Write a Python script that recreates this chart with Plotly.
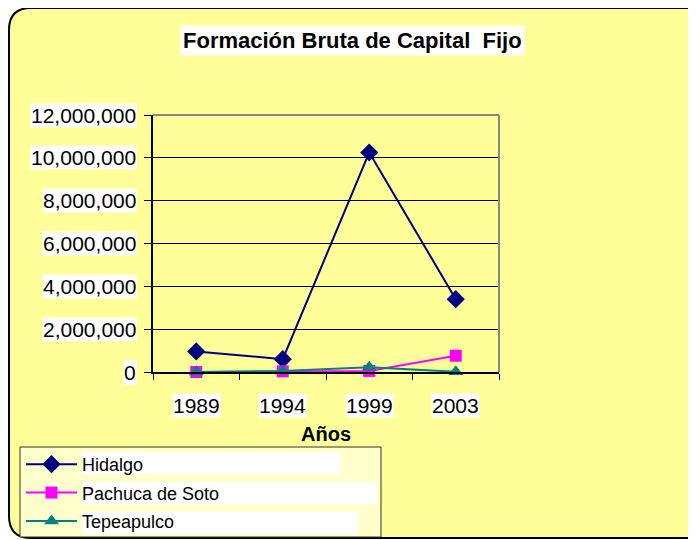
import plotly.graph_objects as go

# data
years = ['1989', '1994', '1999', '2003']
hidalgo = [960000, 600000, 10250000, 3400000]
pachuca = [0, 30000, 50000, 760000]
tepeapulco = [0, 50000, 220000, 10000]
y_ticks = [0, 2000000, 4000000, 6000000, 8000000, 10000000, 12000000]

# the page body adds an 8px offset to the figure
OFF = 8
W, H = 696 - OFF, 540 - OFF
# plot area in window pixels
L, R, T, B = 153, 499, 115, 372


def px(x):
    return (x - L) / (R - L)


def py(y):
    return (B - y) / (B - T)


fig = go.Figure()

series = [
    ('Hidalgo', hidalgo, '#000080', 'diamond', 14),
    ('Pachuca de Soto', pachuca, '#FF00FF', 'square', 12),
    ('Tepeapulco', tepeapulco, '#008080', 'triangle-up', 13),
]
for name, vals, color, symbol, size in series:
    fig.add_trace(go.Scatter(
        x=years, y=vals, name=name, mode='lines+markers',
        line=dict(color=color, width=2),
        marker=dict(symbol=symbol, size=size, color=color),
        legendgroup=name, cliponaxis=False,
    ))

shapes = []
# outer rounded frame (its right side runs off the page, as in the original)
x0, x1, y0, y1, r = 9, 720, 8, 538, 22
rx, ry = r / (R - L), r / (B - T)
path = (f"M {px(x0) + rx},{py(y0)} L {px(x1) - rx},{py(y0)} "
        f"Q {px(x1)},{py(y0)} {px(x1)},{py(y0) - ry} "
        f"L {px(x1)},{py(y1) + ry} Q {px(x1)},{py(y1)} {px(x1) - rx},{py(y1)} "
        f"L {px(x0) + rx},{py(y1)} Q {px(x0)},{py(y1)} {px(x0)},{py(y1) + ry} "
        f"L {px(x0)},{py(y0) - ry} Q {px(x0)},{py(y0)} {px(x0) + rx},{py(y0)} Z")
shapes.append(dict(type='path', path=path, xref='paper', yref='paper', layer='below',
                   fillcolor='#FFFF99', line=dict(color='black', width=2)))
# grey top/right edges of plot area
shapes.append(dict(type='line', xref='paper', yref='paper', x0=0, x1=1, y0=1, y1=1,
                   line=dict(color='#888888', width=2)))
shapes.append(dict(type='line', xref='paper', yref='paper', x0=1, x1=1, y0=0, y1=1,
                   line=dict(color='#888888', width=2)))
# legend box and white text bands
shapes.append(dict(type='rect', xref='paper', yref='paper', x0=px(20), x1=px(381),
                   y0=py(537), y1=py(447), fillcolor='#FFFFCC',
                   line=dict(color='#333333', width=1)))
for xe, ya, yb in [(340, 452, 474), (377, 482, 504), (358, 512, 534)]:
    shapes.append(dict(type='rect', xref='paper', yref='paper', x0=px(82), x1=px(xe),
                       y0=py(yb), y1=py(ya), fillcolor='white', line=dict(width=0)))

annotations = []
font = dict(family='Arial, Liberation Sans', size=21, color='black')
for v in y_ticks:
    annotations.append(dict(x=0, xref='paper', y=v, yref='y', text=f"{v:,}",
                            xanchor='right', yanchor='middle', xshift=-16,
                            showarrow=False, bgcolor='white', borderpad=0, font=font))
for i, yr in enumerate(years):
    annotations.append(dict(x=i, xref='x', y=0, yref='paper', text=yr,
                            xanchor='center', yanchor='middle', yshift=-33,
                            showarrow=False, bgcolor='white', borderpad=0, font=font))
annotations.append(dict(x=px(352), y=py(41), xref='paper', yref='paper',
                        text='<b>Formación Bruta de Capital&nbsp;&nbsp;Fijo</b>',
                        showarrow=False, bgcolor='white', borderpad=2,
                        xanchor='center', yanchor='middle',
                        font=dict(family='Arial, Liberation Sans', size=22, color='black')))
annotations.append(dict(x=0.5, y=py(447), xref='paper', yref='paper', text='<b>Años</b>',
                        showarrow=False, xanchor='center', yanchor='bottom',
                        font=dict(family='Arial, Liberation Sans', size=20, color='black')))

fig.update_layout(
    width=W, height=H,
    margin=dict(l=L - OFF, r=W - (R - OFF), t=T - OFF, b=H - (B - OFF), autoexpand=False),
    paper_bgcolor='white', plot_bgcolor='#FFFFCC',
    font=dict(family='Arial, Liberation Sans', color='black'),
    showlegend=True,
    legend=dict(x=px(21), y=py(446), xanchor='left', yanchor='top',
                bgcolor='rgba(0,0,0,0)', borderwidth=0,
                font=dict(family='Arial, Liberation Sans', size=18, color='black'),
                traceorder='grouped', tracegroupgap=2, itemwidth=51),
    shapes=shapes, annotations=annotations,
    xaxis=dict(type='category', range=[-0.5, 3.5], tickson='boundaries',
               ticks='outside', ticklen=6, tickcolor='black', showticklabels=False,
               showline=True, linecolor='black', linewidth=2, showgrid=False),
    yaxis=dict(range=[0, 12000000], tickvals=y_ticks, ticks='outside', ticklen=7,
               tickcolor='black', showticklabels=False, showline=True, linecolor='black',
               linewidth=2, showgrid=True, gridcolor='black', gridwidth=1,
               zeroline=False),
)

fig.write_html("out.html")
